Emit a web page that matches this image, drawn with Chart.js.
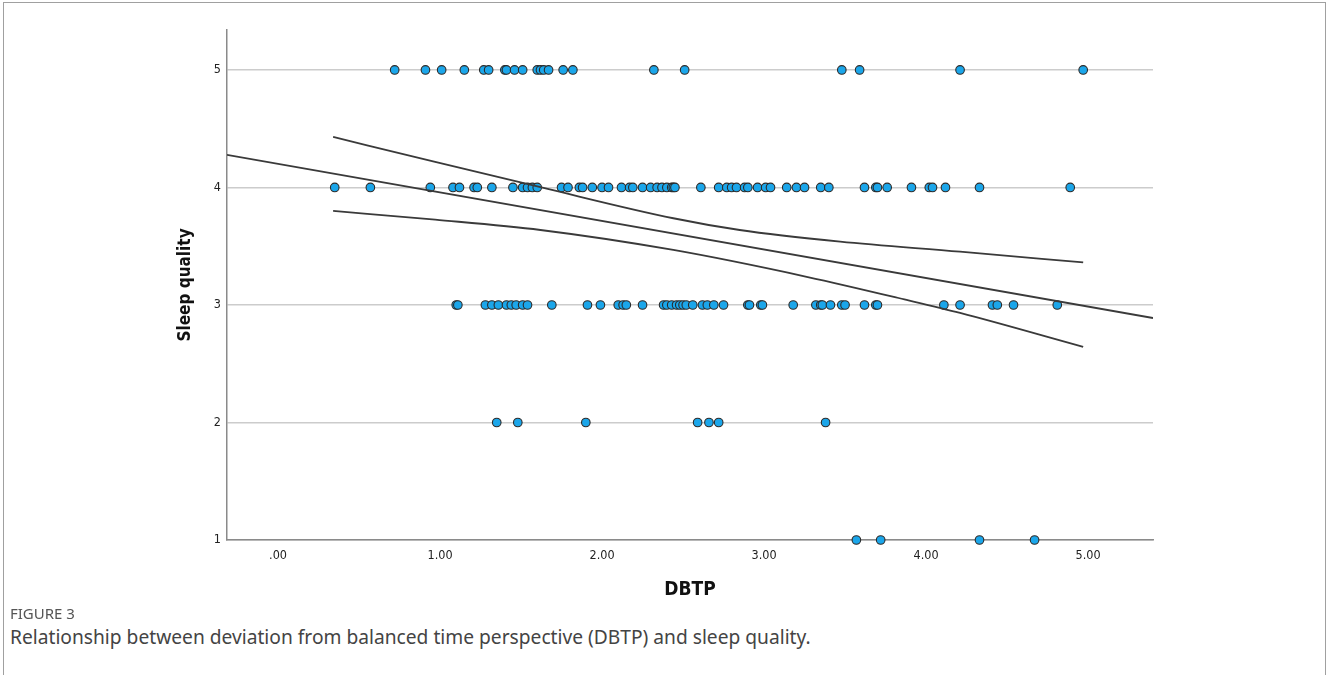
<!DOCTYPE html>
<html>
<head>
<meta charset="utf-8">
<script src="https://cdn.jsdelivr.net/npm/chart.js@4.4.1/dist/chart.umd.min.js"></script>
<style>
  html, body { margin: 0; padding: 0; background: #fff; }
  body { width: 1328px; height: 675px; position: relative; overflow: hidden; font-family: 'Noto Sans', sans-serif; }
  .frame { position: absolute; left: 3px; top: 2px; width: 1321px; height: 720px; border: 1px solid #a0a0a0; }
  #chart { position: absolute; left: 0; top: 0; }
  .fig-label { position: absolute; left: 10px; top: 604px; font-size: 15px; line-height: 18px; color: #555; }
  .fig-caption { position: absolute; left: 10px; top: 626px; font-size: 19.2px; line-height: 22px; color: #444; }
</style>
</head>
<body>
<div class="frame"></div>
<canvas id="chart" width="1328" height="615"></canvas>
<div class="fig-label">FIGURE 3</div>
<div class="fig-caption">Relationship between deviation from balanced time perspective (DBTP) and sleep quality.</div>
<script>
// DBTP scores of the respondents, one list per sleep quality rating
const dbtpScore5 = [0.72, 0.91, 1.01, 1.15, 1.27, 1.30, 1.40, 1.41, 1.46, 1.51, 1.60, 1.62, 1.64, 1.67, 1.76, 1.82, 2.32, 2.51, 3.48, 3.59, 4.21, 4.97];
const dbtpScore4 = [0.35, 0.57, 0.94, 1.08, 1.12, 1.21, 1.23, 1.32, 1.45, 1.51, 1.54, 1.57, 1.60, 1.75, 1.79, 1.86, 1.88, 1.94, 2.00, 2.04, 2.12, 2.17, 2.19, 2.25, 2.30, 2.34, 2.37, 2.40, 2.43, 2.44, 2.45, 2.61, 2.72, 2.77, 2.80, 2.83, 2.88, 2.90, 2.96, 3.01, 3.04, 3.14, 3.20, 3.25, 3.35, 3.40, 3.62, 3.69, 3.70, 3.76, 3.91, 4.02, 4.04, 4.12, 4.33, 4.89];
const dbtpScore3 = [1.10, 1.11, 1.28, 1.32, 1.36, 1.41, 1.44, 1.47, 1.51, 1.54, 1.69, 1.91, 1.99, 2.10, 2.13, 2.15, 2.25, 2.38, 2.40, 2.43, 2.46, 2.48, 2.50, 2.52, 2.56, 2.62, 2.65, 2.69, 2.75, 2.90, 2.91, 2.98, 2.99, 3.18, 3.32, 3.35, 3.36, 3.41, 3.48, 3.50, 3.62, 3.69, 3.70, 4.11, 4.21, 4.41, 4.44, 4.54, 4.81];
const dbtpScore2 = [1.35, 1.48, 1.90, 2.59, 2.66, 2.72, 3.38];
const dbtpScore1 = [3.57, 3.72, 4.33, 4.67];

// fit line and its confidence band
const fitX = [-0.315, 5.401];
const fitY = [4.277, 2.889];
const upperX = [0.34, 0.97, 1.62, 2.44, 2.85, 3.47, 4.21, 4.97];
const upperY = [4.430, 4.217, 4.002, 3.738, 3.638, 3.539, 3.454, 3.362];
const lowerX = [0.34, 0.97, 1.62, 2.44, 3.27, 3.88, 4.21, 4.97];
const lowerY = [3.800, 3.726, 3.638, 3.468, 3.238, 3.043, 2.932, 2.643];

const xTickValues = [0, 1, 2, 3, 4, 5];
const xTickLabels = ['.00', '1.00', '2.00', '3.00', '4.00', '5.00'];
const yTickValues = [1, 2, 3, 4, 5];

const axisFont = "'DejaVu Sans Condensed', 'Liberation Sans Narrow', 'DejaVu Sans', sans-serif";

// met les scores d'une ligne en points {x, y}
function rowPoints(xs, y) {
    return xs.map(x => ({ x: x, y: y }));
}
function zip(xs, ys) {
    return xs.map((x, i) => ({ x: x, y: ys[i] }));
}

const points = [].concat(
    rowPoints(dbtpScore5, 5),
    rowPoints(dbtpScore4, 4),
    rowPoints(dbtpScore3, 3),
    rowPoints(dbtpScore2, 2),
    rowPoints(dbtpScore1, 1)
);

const lineStyle = {
    showLine: true,
    pointRadius: 0,
    borderColor: '#3a3a3a',
    borderWidth: 1.8,
    order: 0
};

new Chart(document.getElementById('chart'), {
    type: 'scatter',
    data: {
        datasets: [
            Object.assign({ data: zip(fitX, fitY) }, lineStyle),
            Object.assign({ data: zip(upperX, upperY), cubicInterpolationMode: 'monotone' }, lineStyle),
            Object.assign({ data: zip(lowerX, lowerY), cubicInterpolationMode: 'monotone' }, lineStyle),
            {
                data: points,
                backgroundColor: '#1ba6ea',
                borderColor: '#2a2a2a',
                borderWidth: 1.1,
                pointRadius: 4.3,
                clip: false,
                order: 1
            }
        ]
    },
    options: {
        responsive: false,
        animation: false,
        layout: { padding: { left: 165, right: 175, top: 30, bottom: 5 } },
        plugins: { legend: { display: false }, tooltip: { enabled: false } },
        scales: {
            x: {
                type: 'linear',
                min: -0.315,
                max: 5.401,
                afterBuildTicks: function (scale) { scale.ticks = xTickValues.map(v => ({ value: v })); },
                afterFit: function (scale) { scale.height = 70; },
                grid: { display: false, drawTicks: false },
                border: { display: true, color: '#8a8a8a', width: 1.5 },
                ticks: {
                    padding: 8,
                    color: '#222',
                    maxRotation: 0,
                    font: { size: 12.5, family: axisFont },
                    callback: function (v) { return xTickLabels[xTickValues.indexOf(v)]; }
                },
                title: {
                    display: true,
                    text: 'DBTP',
                    color: '#111',
                    font: { size: 19, weight: 'bold', family: axisFont },
                    padding: { top: 0, bottom: 9 }
                }
            },
            y: {
                type: 'linear',
                min: 1,
                max: 5.34,
                afterBuildTicks: function (scale) { scale.ticks = yTickValues.map(v => ({ value: v })); },
                afterFit: function (scale) { scale.width = 62; },
                grid: { color: '#cccccc', lineWidth: 1.5, drawTicks: false },
                border: { display: true, color: '#8a8a8a', width: 1.5 },
                ticks: {
                    padding: 6,
                    color: '#222',
                    font: { size: 12.5, family: axisFont }
                },
                title: {
                    display: true,
                    text: 'Sleep quality',
                    color: '#111',
                    font: { size: 17, weight: 'bold', family: axisFont },
                    padding: { top: 10, bottom: 0 }
                }
            }
        }
    }
});
</script>
</body>
</html>
